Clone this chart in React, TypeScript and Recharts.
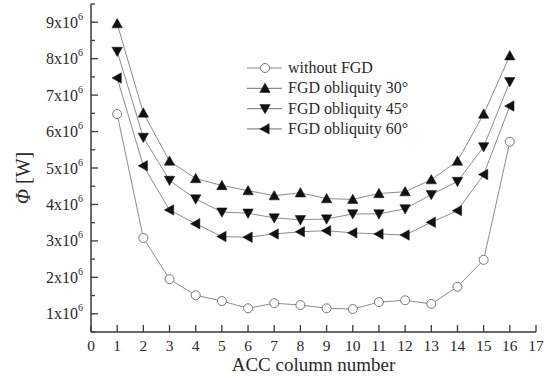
import React from 'react';
import { LineChart, Line, XAxis, YAxis, Legend } from 'recharts';

const columns = [1, 2, 3, 4, 5, 6, 7, 8, 9, 10, 11, 12, 13, 14, 15, 16];
const withoutFGD = [6.48, 3.08, 1.95, 1.51, 1.35, 1.15, 1.29, 1.24, 1.15, 1.13, 1.32, 1.37, 1.27, 1.74, 2.48, 5.72];
const obliquity30 = [8.96, 6.51, 5.19, 4.71, 4.52, 4.38, 4.24, 4.32, 4.16, 4.14, 4.3, 4.35, 4.68, 5.19, 6.48, 8.08];
const obliquity45 = [8.2, 5.84, 4.66, 4.15, 3.79, 3.76, 3.63, 3.58, 3.6, 3.74, 3.74, 3.88, 4.27, 4.63, 5.58, 7.37];
const obliquity60 = [7.47, 5.06, 3.85, 3.47, 3.12, 3.1, 3.19, 3.25, 3.28, 3.22, 3.19, 3.16, 3.51, 3.83, 4.82, 6.7];
const xTicks = [0, 1, 2, 3, 4, 5, 6, 7, 8, 9, 10, 11, 12, 13, 14, 15, 16, 17];
const yTicks = [0.5, 1, 1.5, 2, 2.5, 3, 3.5, 4, 4.5, 5, 5.5, 6, 6.5, 7, 7.5, 8, 8.5, 9, 9.5].map((v) => v * 1e6);
const seriesNames = ['without FGD', 'FGD obliquity 30°', 'FGD obliquity 45°', 'FGD obliquity 60°'];

const data = columns.map((c, i) => ({
  col: c,
  s0: withoutFGD[i] * 1e6,
  s30: obliquity30[i] * 1e6,
  s45: obliquity45[i] * 1e6,
  s60: obliquity60[i] * 1e6,
}));

const FONT = '"Liberation Serif", "Times New Roman", serif';
const LINE = '#8c8c8c';
const TEXT = '#2a2a2a';
const AXIS = '#3a3a3a';

type Kind = 'circle' | 'up' | 'down' | 'left';

const Marker = ({ kind, cx, cy }: { kind: Kind; cx: number; cy: number }) => {
  if (cx == null || cy == null || isNaN(cx) || isNaN(cy)) return null;
  if (kind === 'circle') {
    return <circle cx={cx} cy={cy} r={4.5} fill="#fff" stroke="#777" strokeWidth={1} />;
  }
  const s = 5.2;
  let pts = '';
  if (kind === 'up') pts = `${cx},${cy - s} ${cx - s},${cy + s * 0.8} ${cx + s},${cy + s * 0.8}`;
  if (kind === 'down') pts = `${cx},${cy + s} ${cx - s},${cy - s * 0.8} ${cx + s},${cy - s * 0.8}`;
  if (kind === 'left') pts = `${cx - s},${cy} ${cx + s * 0.8},${cy - s} ${cx + s * 0.8},${cy + s}`;
  return <polygon points={pts} fill="#111" stroke="#111" strokeWidth={0.5} />;
};

const makeDot = (kind: Kind) => (props: any) => (
  <Marker key={`${kind}-${props.index}`} kind={kind} cx={props.cx} cy={props.cy} />
);

const YTick = (props: any) => {
  const { x, y, payload } = props;
  const v = payload.value as number;
  const major = Math.abs(v % 1e6) < 1;
  return (
    <g>
      <line x1={x} y1={y} x2={x + (major ? 7 : 4)} y2={y} stroke={AXIS} strokeWidth={1.3} />
      {major && (
        <text x={x - 8} y={y + 5.5} textAnchor="end" fontFamily={FONT} fontSize={16} fill={TEXT}>
          {`${Math.round(v / 1e6)}x10`}
          <tspan fontSize={10} dy={-8}>6</tspan>
        </text>
      )}
    </g>
  );
};

const XTick = (props: any) => {
  const { x, y, payload } = props;
  return (
    <g>
      <line x1={x} y1={y} x2={x} y2={y - 7} stroke={AXIS} strokeWidth={1.3} />
      <text x={x} y={y + 19} textAnchor="middle" fontFamily={FONT} fontSize={15.5} fill={TEXT}>
        {payload.value}
      </text>
    </g>
  );
};

const kinds: Kind[] = ['circle', 'up', 'down', 'left'];

const LegendContent = () => (
  <svg width={190} height={84} style={{ display: 'block', overflow: 'visible' }}>
    {seriesNames.map((name, i) => {
      const cy = 10 + i * 20.3;
      return (
        <g key={name}>
          <line x1={0} y1={cy} x2={35} y2={cy} stroke={LINE} strokeWidth={1.2} />
          <Marker kind={kinds[i]} cx={18} cy={cy} />
          <text x={41} y={cy + 5} fontFamily={FONT} fontSize={16} fill={TEXT}>
            {name}
          </text>
        </g>
      );
    })}
  </svg>
);

const YLabel = (props: any) => {
  const vb = props.viewBox || { x: 0, y: 0, width: 91, height: 328 };
  const cx = vb.x + 23;
  const cy = vb.y + 174;
  return (
    <text
      x={cx}
      y={cy}
      transform={`rotate(-90, ${cx}, ${cy})`}
      textAnchor="middle"
      dominantBaseline="central"
      fontFamily={FONT}
      fontSize={20}
      fill={TEXT}
    >
      <tspan fontStyle="italic">Φ</tspan>
      <tspan> [W]</tspan>
    </text>
  );
};

export default function App() {
  return (
    <div style={{ position: 'absolute', left: 0, top: 0, width: 551, height: 378, background: '#fff' }}>
      <LineChart width={551} height={378} data={data} margin={{ top: 4, right: 15, bottom: 0, left: 0 }}>
        <XAxis
          dataKey="col"
          type="number"
          domain={[0, 17]}
          ticks={xTicks}
          interval={0}
          height={46}
          tickSize={0}
          tickMargin={0}
          tickLine={false}
          axisLine={{ stroke: AXIS, strokeWidth: 1.5 }}
          tick={<XTick />}
          label={{ value: 'ACC column number', position: 'insideBottom', offset: 7, fontFamily: FONT, fontSize: 19, fill: TEXT }}
        />
        <YAxis
          type="number"
          domain={[500000, 9500000]}
          ticks={yTicks}
          interval={0}
          width={91}
          tickSize={0}
          tickMargin={0}
          tickLine={false}
          axisLine={{ stroke: AXIS, strokeWidth: 1.5 }}
          tick={<YTick />}
          allowDataOverflow
          label={<YLabel />}
        />
        <Legend
          layout="vertical"
          align="center"
          verticalAlign="middle"
          content={<LegendContent />}
          wrapperStyle={{ left: 247, top: 58, width: 190, height: 84 }}
        />
        <Line dataKey="s0" name={seriesNames[0]} stroke={LINE} strokeWidth={1} dot={makeDot('circle')} activeDot={false} isAnimationActive={false} />
        <Line dataKey="s30" name={seriesNames[1]} stroke={LINE} strokeWidth={1} dot={makeDot('up')} activeDot={false} isAnimationActive={false} />
        <Line dataKey="s45" name={seriesNames[2]} stroke={LINE} strokeWidth={1} dot={makeDot('down')} activeDot={false} isAnimationActive={false} />
        <Line dataKey="s60" name={seriesNames[3]} stroke={LINE} strokeWidth={1} dot={makeDot('left')} activeDot={false} isAnimationActive={false} />
      </LineChart>
    </div>
  );
}
